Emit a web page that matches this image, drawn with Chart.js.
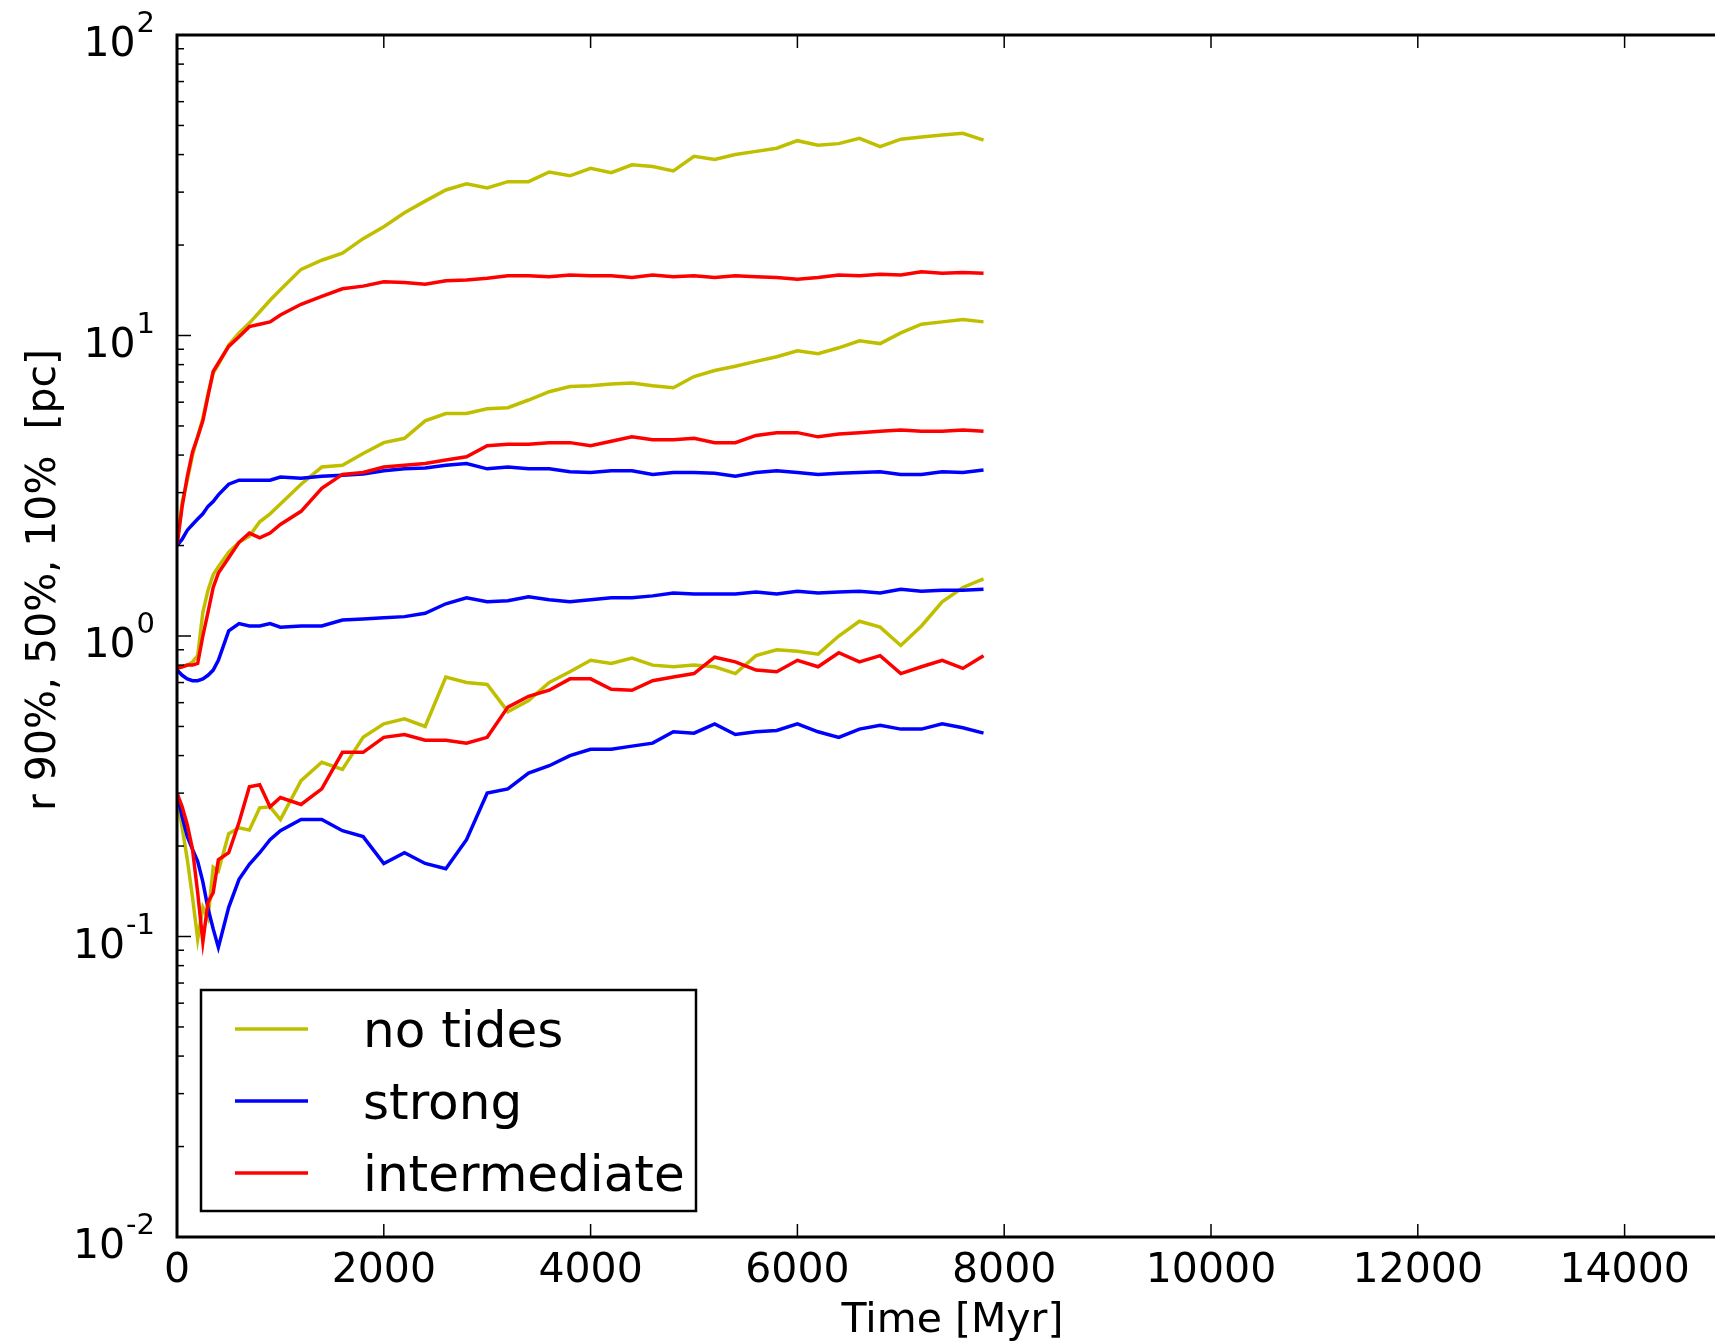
<!DOCTYPE html>
<html>
<head>
<meta charset="utf-8">
<script src="https://cdn.jsdelivr.net/npm/chart.js@4.4.0/dist/chart.umd.min.js"></script>
<style>
  html, body { margin: 0; padding: 0; background: #fff; overflow: hidden; }
  #wrap { width: 1728px; height: 1341px; }
</style>
</head>
<body>
<div id="wrap"><canvas id="chart" width="1728" height="1341"></canvas></div>
<script>
// time axis (Myr), shared by all runs
const times = [0, 50, 100, 150, 200, 250, 300, 350, 400, 500, 600, 700, 800, 900, 1000,
  1200, 1400, 1600, 1800, 2000, 2200, 2400, 2600, 2800, 3000, 3200, 3400, 3600, 3800, 4000,
  4200, 4400, 4600, 4800, 5000, 5200, 5400, 5600, 5800, 6000, 6200, 6400, 6600, 6800, 7000,
  7200, 7400, 7600, 7800];

// Lagrangian radii [pc]
const noTides90 = [2.0, 2.8, 3.3, 4.0, 4.6, 5.3, 6.4, 7.5, 8.0, 9.3, 10.2, 11.0, 12.0, 13.1, 14.2,
  16.6, 17.8, 18.8, 21.0, 23.0, 25.6, 28.0, 30.5, 32.0, 31.0, 32.5, 32.5, 35.0, 34.0, 36.0,
  34.8, 37.0, 36.5, 35.3, 39.5, 38.5, 40.0, 41.0, 42.0, 44.5, 43.0, 43.5, 45.3, 42.5, 45.0,
  45.8, 46.5, 47.1, 44.7];
const noTides50 = [0.78, 0.79, 0.80, 0.82, 0.86, 1.2, 1.42, 1.6, 1.7, 1.9, 2.05, 2.15, 2.4, 2.55, 2.75,
  3.2, 3.65, 3.7, 4.05, 4.4, 4.55, 5.2, 5.5, 5.5, 5.7, 5.75, 6.1, 6.5, 6.76, 6.8,
  6.9, 6.95, 6.8, 6.7, 7.3, 7.65, 7.9, 8.2, 8.5, 8.9, 8.7, 9.1, 9.6, 9.4, 10.2,
  10.9, 11.1, 11.3, 11.1];
const noTides10 = [0.29, 0.23, 0.18, 0.135, 0.098, 0.125, 0.115, 0.17, 0.165, 0.22, 0.23, 0.226, 0.268, 0.27, 0.245,
  0.33, 0.38, 0.36, 0.46, 0.51, 0.53, 0.50, 0.73, 0.70, 0.69, 0.56, 0.61, 0.70, 0.76, 0.83,
  0.81, 0.845, 0.80, 0.79, 0.80, 0.79, 0.75, 0.86, 0.90, 0.89, 0.87, 1.0, 1.12, 1.07, 0.93,
  1.08, 1.3, 1.45, 1.55];

const strong90 = [2.0, 2.1, 2.25, 2.35, 2.45, 2.55, 2.7, 2.8, 2.95, 3.2, 3.3, 3.3, 3.3, 3.3, 3.38,
  3.35, 3.4, 3.43, 3.46, 3.55, 3.6, 3.62, 3.7, 3.75, 3.6, 3.65, 3.6, 3.6, 3.52, 3.5,
  3.55, 3.55, 3.45, 3.5, 3.5, 3.48, 3.4, 3.5, 3.55, 3.5, 3.45, 3.48, 3.5, 3.52, 3.45,
  3.45, 3.52, 3.5, 3.57];
const strong50 = [0.77, 0.74, 0.72, 0.71, 0.71, 0.72, 0.74, 0.77, 0.83, 1.04, 1.1, 1.08, 1.08, 1.1, 1.07,
  1.08, 1.08, 1.13, 1.14, 1.15, 1.16, 1.19, 1.28, 1.34, 1.30, 1.31, 1.35, 1.32, 1.30, 1.32,
  1.34, 1.34, 1.36, 1.39, 1.38, 1.38, 1.38, 1.40, 1.38, 1.41, 1.39, 1.40, 1.41, 1.39, 1.43,
  1.41, 1.42, 1.42, 1.43];
const strong10 = [0.30, 0.25, 0.215, 0.195, 0.178, 0.152, 0.124, 0.106, 0.092, 0.125, 0.155, 0.174, 0.19, 0.21, 0.225,
  0.245, 0.245, 0.225, 0.215, 0.175, 0.19, 0.175, 0.168, 0.21, 0.30, 0.31, 0.35, 0.37, 0.40, 0.42,
  0.42, 0.43, 0.44, 0.48, 0.475, 0.51, 0.47, 0.48, 0.485, 0.51, 0.48, 0.46, 0.49, 0.505, 0.49,
  0.49, 0.51, 0.495, 0.475];

const intermediate90 = [2.0, 2.7, 3.4, 4.1, 4.6, 5.2, 6.3, 7.6, 8.1, 9.2, 9.9, 10.7, 10.9, 11.1, 11.7,
  12.7, 13.5, 14.3, 14.6, 15.1, 15.0, 14.8, 15.2, 15.3, 15.5, 15.8, 15.8, 15.7, 15.9, 15.8,
  15.8, 15.6, 15.9, 15.7, 15.8, 15.6, 15.8, 15.7, 15.6, 15.4, 15.6, 15.9, 15.8, 16.0, 15.9,
  16.3, 16.1, 16.2, 16.1];
const intermediate50 = [0.78, 0.79, 0.80, 0.80, 0.81, 1.0, 1.2, 1.45, 1.62, 1.82, 2.05, 2.2, 2.12, 2.2, 2.35,
  2.6, 3.1, 3.45, 3.5, 3.65, 3.7, 3.75, 3.85, 3.95, 4.3, 4.35, 4.35, 4.4, 4.4, 4.3,
  4.45, 4.6, 4.5, 4.5, 4.55, 4.4, 4.4, 4.65, 4.75, 4.75, 4.6, 4.7, 4.75, 4.8, 4.85,
  4.8, 4.8, 4.85, 4.8];
const intermediate10 = [0.30, 0.27, 0.235, 0.195, 0.14, 0.096, 0.13, 0.14, 0.18, 0.19, 0.24, 0.315, 0.32, 0.27, 0.29,
  0.275, 0.31, 0.41, 0.41, 0.46, 0.47, 0.45, 0.45, 0.44, 0.46, 0.58, 0.63, 0.66, 0.72, 0.72,
  0.665, 0.66, 0.71, 0.73, 0.75, 0.85, 0.82, 0.77, 0.76, 0.83, 0.79, 0.88, 0.82, 0.86, 0.75,
  0.79, 0.83, 0.78, 0.86];

const legendLabels = ["no tides", "strong", "intermediate"];
const colors = ["#bfbf00", "#0000ff", "#ff0000"];

const xTicks = [0, 2000, 4000, 6000, 8000, 10000, 12000, 14000];
const yDecades = [0.01, 0.1, 1, 10, 100];
const yExponents = ["-2", "-1", "0", "1", "2"];

const FONT = "DejaVu Sans";

function pts(arr) {
  return times.map((t, i) => ({ x: t, y: arr[i] }));
}

const runs = [
  [noTides90, noTides50, noTides10],
  [strong90, strong50, strong10],
  [intermediate90, intermediate50, intermediate10],
];
const order = [2, 1, 0]; // red on top, yellow at the bottom

const datasets = [];
runs.forEach((set, k) => {
  set.forEach((arr) => {
    datasets.push({
      label: legendLabels[k],
      data: pts(arr),
      borderColor: colors[k],
      borderWidth: 3.5,
      pointRadius: 0,
      tension: 0,
      fill: false,
      order: order[k],
    });
  });
});

// frame, inward ticks, y labels with exponents, y title and legend box
const decorations = {
  id: "decorations",
  afterDraw(chart) {
    const { ctx, chartArea: a, scales } = chart;
    const x = scales.x, y = scales.y;
    ctx.save();
    ctx.strokeStyle = "#000";
    ctx.fillStyle = "#000";

    function seg(x1, y1, x2, y2) {
      ctx.beginPath();
      ctx.moveTo(x1, y1);
      ctx.lineTo(x2, y2);
      ctx.stroke();
    }

    ctx.lineWidth = 1.5;
    x.ticks.forEach((t) => {
      const px = x.getPixelForValue(t.value);
      seg(px, a.bottom, px, a.bottom - 13);
      seg(px, a.top, px, a.top + 13);
    });
    yDecades.forEach((d, i) => {
      const py = y.getPixelForValue(d);
      seg(a.left, py, a.left + 14, py);
      if (i < yDecades.length - 1) {
        for (let m = 2; m <= 9; m++) {
          const pm = y.getPixelForValue(d * m);
          seg(a.left, pm, a.left + 7, pm);
        }
      }
    });

    ctx.lineWidth = 3;
    ctx.strokeRect(a.left, a.top, a.right - a.left, a.bottom - a.top);

    // y tick labels 10^n
    ctx.textBaseline = "alphabetic";
    yDecades.forEach((d, i) => {
      const py = y.getPixelForValue(d);
      const right = a.left - 22;
      ctx.font = "29px '" + FONT + "'";
      const we = ctx.measureText(yExponents[i]).width;
      ctx.textAlign = "left";
      ctx.fillText(yExponents[i], right - we, py - 3);
      ctx.font = "41px '" + FONT + "'";
      ctx.textAlign = "right";
      ctx.fillText("10", right - we - 1, py + 21);
    });

    // y axis title
    ctx.save();
    ctx.font = "41px '" + FONT + "'";
    const title = "r 90%, 50%, 10%  [pc]";
    const tw = ctx.measureText(title).width;
    ctx.translate(55, 580 + tw / 2);
    ctx.rotate(-Math.PI / 2);
    ctx.textAlign = "left";
    ctx.fillText(title, 0, 0);
    ctx.restore();

    // legend box
    const bx = 201, by = 990, bw = 495, bh = 221;
    ctx.fillStyle = "#fff";
    ctx.fillRect(bx, by, bw, bh);
    ctx.lineWidth = 2.5;
    ctx.strokeStyle = "#000";
    ctx.strokeRect(bx, by, bw, bh);
    ctx.font = "50px '" + FONT + "'";
    ctx.textAlign = "left";
    legendLabels.forEach((lab, k) => {
      const ly = by + 39 + k * 72;
      ctx.strokeStyle = colors[k];
      ctx.lineWidth = 3.5;
      seg(235, ly, 308, ly);
      ctx.fillStyle = "#000";
      ctx.fillText(lab, 363, ly + 18);
    });
    ctx.restore();
  },
};

const ctx = document.getElementById("chart").getContext("2d");
new Chart(ctx, {
  type: "line",
  data: { datasets: datasets },
  options: {
    responsive: false,
    animation: false,
    devicePixelRatio: 1,
    layout: { padding: { top: 35, left: 0, right: 0, bottom: 0 } },
    plugins: { legend: { display: false }, tooltip: { enabled: false } },
    scales: {
      x: {
        type: "linear",
        min: 0,
        max: 15000,
        grid: { display: false, drawTicks: false },
        border: { display: false },
        afterBuildTicks: (s) => {
          s.ticks = xTicks.map((v) => ({ value: v }));
        },
        ticks: {
          autoSkip: false,
          padding: 10,
          color: "#000",
          font: { family: FONT, size: 41 },
          maxRotation: 0,
          minRotation: 0,
          callback: (v) => String(v),
        },
        title: {
          display: true,
          text: "Time [Myr]",
          color: "#000",
          font: { family: FONT, size: 41 },
          padding: { top: 0, bottom: -5 },
        },
        afterFit: (s) => {
          s.height = 104;
          s.paddingLeft = 0;
          s.paddingRight = 0;
        },
      },
      y: {
        type: "logarithmic",
        min: 0.01,
        max: 100,
        grid: { display: false, drawTicks: false },
        border: { display: false },
        ticks: { display: false },
        afterFit: (s) => {
          s.width = 177;
          s.paddingTop = 0;
          s.paddingBottom = 0;
        },
      },
    },
  },
  plugins: [decorations],
});
</script>
</body>
</html>
